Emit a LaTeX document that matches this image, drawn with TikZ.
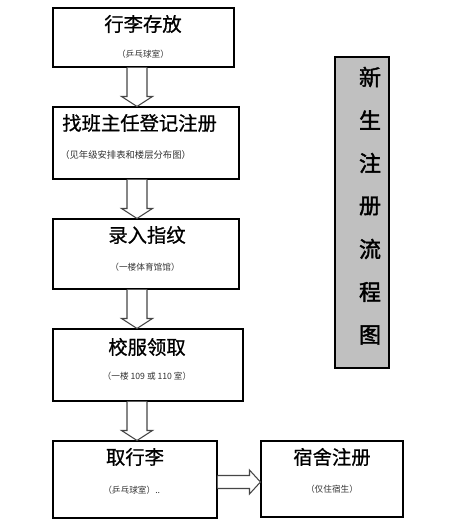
\documentclass[tikz,border=0pt]{standalone}
\usepackage{fontspec}
\usetikzlibrary{calc}
\newfontfamily\cjk{Noto Sans CJK SC}
\newfontfamily\cjkmed{Noto Sans CJK SC}[FakeBold=0.8]
\newfontfamily\cjkbold{Noto Sans CJK SC}[FakeBold=1.8]
\definecolor{sidegray}{RGB}{192,192,192}
\definecolor{arrowline}{RGB}{70,70,70}
\tikzset{
  box/.style={draw=black, line width=0.8pt, fill=white, inner sep=0pt},
  ttl/.style={font=\cjkmed\fontsize{14.5}{16}\selectfont, inner sep=0pt},
  sub/.style={font=\cjk\fontsize{6.5}{8}\selectfont, text=black!80, inner sep=0pt},
  sidech/.style={font=\cjkbold\fontsize{16.5}{18}\selectfont, inner sep=0pt},
  blockarrow/.style={draw=arrowline, line width=0.8pt, fill=white, line join=miter}
}
\begin{document}
\begin{tikzpicture}[x=0.75pt,y=-0.75pt]
\useasboundingbox (0,0) rectangle (456,529);
% boxes
\node[box, minimum width=135.75pt, minimum height=44.25pt] (b1) at (143.5,37.5) {};
\node[box, minimum width=139.5pt, minimum height=54pt] (b2) at (146,143) {};
\node[box, minimum width=139.5pt, minimum height=52.5pt] (b3) at (146,254) {};
\node[box, minimum width=142.5pt, minimum height=54pt] (b4) at (148,365) {};
\node[box, minimum width=123pt, minimum height=57.75pt] (b5) at (135,479.5) {};
\node[box, minimum width=106.5pt, minimum height=57pt] (b6) at (332,479) {};
\node[box, fill=sidegray, minimum width=40.5pt, minimum height=233.25pt] (side) at (362,212.5) {};
% titles
\node[ttl] (t1) at (143,24) {行李存放};
\node[ttl, anchor=west] (t2) at (62,123) {找班主任登记注册};
\node[ttl] (t3) at (147,235) {录入指纹};
\node[ttl] (t4) at (147,347) {校服领取};
\node[ttl] (t5) at (135,457) {取行李};
\node[ttl] (t6) at (332,457) {宿舍注册};
% sub texts
\node[sub] (s1) at (143,54) {（乒乓球室）};
\node[sub, anchor=west, font=\cjk\fontsize{7}{8}\selectfont] (s2) at (60,155) {（见年级安排表和楼层分布图）};
\node[sub] (s3) at (145,267) {（一楼体育馆馆）};
\node[sub] (s4) at (147,376) {（一楼 109 或 110 室）};
\node[sub, anchor=west] (s5) at (103,490) {（乒乓球室）..};
\node[sub] (s6) at (332,489) {（仅住宿生）};
% side title
\foreach \c [count=\i from 0] in {新,生,注,册,流,程,图}{
  \node[sidech] (v\i) at (370,77+43*\i) {\c};
}
% vertical block arrows
\coordinate (ax) at (137,0);
\foreach \a/\b in {b1/b2,b2/b3,b3/b4,b4/b5}{
  \draw[blockarrow]
    ($(\a.south -| ax)+(-10,0)$) -- ($(\b.north -| ax)+(-10,-10)$) --
    ($(\b.north -| ax)+(-15.5,-10)$) -- (\b.north -| ax) --
    ($(\b.north -| ax)+(15.5,-10)$) -- ($(\b.north -| ax)+(10,-10)$) --
    ($(\a.south -| ax)+(10,0)$);
}
% horizontal block arrow
\coordinate (ay) at (0,482);
\draw[blockarrow]
  ($(b5.east |- ay)+(0,-6.5)$) -- ($(b6.west |- ay)+(-11,-6.5)$) --
  ($(b6.west |- ay)+(-11,-12)$) -- (b6.west |- ay) --
  ($(b6.west |- ay)+(-11,12)$) -- ($(b6.west |- ay)+(-11,6.5)$) --
  ($(b5.east |- ay)+(0,6.5)$);
\end{tikzpicture}
\end{document}
